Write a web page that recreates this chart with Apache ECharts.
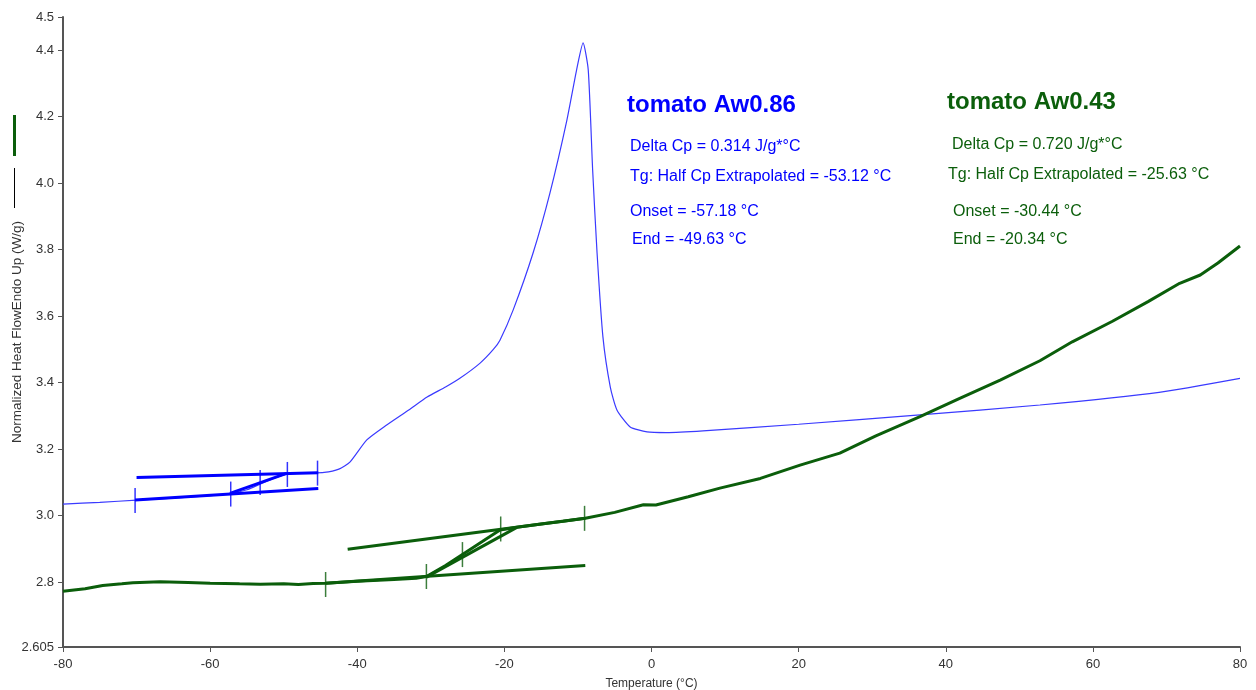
<!DOCTYPE html>
<html>
<head>
<meta charset="utf-8">
<script src="https://cdn.jsdelivr.net/npm/echarts@6/dist/echarts.min.js"></script>
<style>
  html, body { margin: 0; padding: 0; background: #fff; }
  #chart { width: 1256px; height: 690px; }
</style>
</head>
<body>
<div id="chart"></div>
<script>
// x ticks (temperature) and y tick labels
const xTicks = [-80, -60, -40, -20, 0, 20, 40, 60, 80]
const yTicks = [2.605, 2.8, 3.0, 3.2, 3.4, 3.6, 3.8, 4.0, 4.2, 4.4, 4.5]

// tomato Aw0.86 (blue)
const blueCurve = [
  [-80, 3.035], [-75, 3.040], [-70, 3.047], [-65, 3.053], [-60, 3.060], [-57.3, 3.066],
  [-55, 3.078], [-53, 3.097], [-51, 3.115], [-49.5, 3.125], [-47, 3.128], [-44.5, 3.130],
  [-42.5, 3.140], [-41, 3.161], [-38.7, 3.228], [-36, 3.273], [-33, 3.318], [-30.5, 3.357],
  [-28, 3.387], [-26, 3.414], [-23.3, 3.459], [-21.5, 3.500], [-20.6, 3.528], [-18.8, 3.619],
  [-16.1, 3.790], [-13.8, 3.971], [-11.5, 4.190], [-10.1, 4.350], [-9.3, 4.422], [-8.6, 4.341],
  [-8.0, 4.040], [-7.4, 3.790], [-6.6, 3.537], [-5.6, 3.387], [-4.7, 3.318], [-2.9, 3.267],
  [-0.6, 3.252], [2, 3.250], [7, 3.255], [20, 3.275], [36.5, 3.303], [52.8, 3.333],
  [69, 3.371], [80, 3.413]
]
const blueLower = [[-70.2, 3.047], [-45.3, 3.082]]
const blueUpper = [[-70.0, 3.115], [-45.3, 3.129]]
const blueInflect = [[-57.3, 3.067], [-49.6, 3.127]]
const blueMarks = [[-70.2, 3.046], [-57.2, 3.065], [-53.2, 3.100], [-49.5, 3.124], [-45.4, 3.128]]

// tomato Aw0.43 (green)
const greenCurve = [
  [-80, 2.773], [-77, 2.780], [-74.6, 2.790], [-72, 2.795], [-70.5, 2.798], [-66.8, 2.801],
  [-63, 2.799], [-60, 2.797], [-56, 2.795], [-53.2, 2.794], [-50, 2.795], [-48, 2.793],
  [-46, 2.796], [-44.3, 2.797], [-40, 2.803], [-35, 2.808], [-32, 2.812], [-30.6, 2.817],
  [-28, 2.850], [-25.6, 2.885], [-23, 2.922], [-20.6, 2.957], [-18.3, 2.965], [-15, 2.975],
  [-12, 2.983], [-9, 2.992], [-5, 3.010], [-1.1, 3.033], [0.6, 3.032], [5, 3.057],
  [9.3, 3.083], [14.8, 3.112], [20.2, 3.152], [25.6, 3.188], [30.5, 3.240], [36.5, 3.298],
  [41.9, 3.353], [47.4, 3.408], [52.8, 3.466], [57.2, 3.523], [62.6, 3.584], [67.5, 3.644],
  [71.8, 3.699], [74.6, 3.724], [77, 3.760], [80, 3.811]
]
const greenLower = [[-44.3, 2.797], [-9.0, 2.850]]
const greenUpper = [[-41.3, 2.899], [-9.0, 2.992]]
const greenInflect = [[-30.6, 2.815], [-18.3, 2.965]]
const greenMarks = [[-44.3, 2.793], [-30.6, 2.817], [-25.7, 2.883], [-20.5, 2.960], [-9.1, 2.992]]

const blueText = ["Delta Cp = 0.314 J/g*°C", "Tg: Half Cp Extrapolated = -53.12 °C", "Onset = -57.18 °C", "End = -49.63 °C"]
const greenText = ["Delta Cp = 0.720 J/g*°C", "Tg: Half Cp Extrapolated = -25.63 °C", "Onset = -30.44 °C", "End = -20.34 °C"]

const BLUE = "#0000ff"
const BLUE_THIN = "#3a3aff"
const GREEN = "#0b5e0b"
const FONT = "'Liberation Sans', Arial, sans-serif"

let myChart = echarts.init(document.getElementById("chart"))

function segment(data, color){
  return {
    type: "line", data: data, showSymbol: false, silent: true,
    lineStyle: { color: color, width: 3 }, z: 3
  }
}
function marks(data, color){
  return {
    type: "scatter", data: data, symbol: "rect", symbolSize: [1.5, 25], silent: true,
    itemStyle: { color: color }, z: 4
  }
}
function textLines(lines, x, ys, color){
  return lines.map((t, i) => ({
    type: "text", left: x[i], top: ys[i],
    style: { text: t, fill: color, font: "16px " + FONT }
  }))
}

let option = {
  animation: false,
  grid: { left: 63, right: 16, top: 17, bottom: 43, outerBoundsMode: "none" },
  xAxis: {
    type: "value", min: -80, max: 80, interval: 20,
    name: "Temperature (°C)", nameLocation: "middle", nameGap: 31,
    nameTextStyle: { color: "#333", fontSize: 12, fontFamily: FONT },
    axisLine: { onZero: false, lineStyle: { color: "#555", width: 2 } },
    axisTick: { show: true, length: 5, lineStyle: { color: "#555" } },
    axisLabel: { color: "#333", fontSize: 13, fontFamily: FONT, margin: 11, formatter: v => xTicks.includes(v) ? String(v) : "" },
    splitLine: { show: false }
  },
  yAxis: {
    type: "value", min: 2.605, max: 4.5,
    axisLine: { show: true, onZero: false, lineStyle: { color: "#555", width: 2 } },
    axisTick: { show: true, length: 5, customValues: yTicks, lineStyle: { color: "#555" } },
    axisLabel: {
      color: "#333", fontSize: 13, fontFamily: FONT, margin: 9, customValues: yTicks,
      formatter: v => Math.abs(v - 2.605) < 1e-6 ? "2.605" : v.toFixed(1)
    },
    splitLine: { show: false }
  },
  series: [
    { type: "line", data: blueCurve, showSymbol: false, smooth: 0.2, silent: true,
      lineStyle: { color: BLUE_THIN, width: 1.2 }, z: 2 },
    { type: "line", data: greenCurve, showSymbol: false, silent: true,
      lineStyle: { color: GREEN, width: 3 }, z: 2 },
    segment(blueLower, BLUE), segment(blueUpper, BLUE), segment(blueInflect, BLUE),
    segment(greenLower, GREEN), segment(greenUpper, GREEN), segment(greenInflect, GREEN),
    marks(blueMarks, BLUE), marks(greenMarks, GREEN)
  ],
  graphic: [
    // legend samples and rotated axis title
    { type: "line", shape: { x1: 14.5, y1: 115, x2: 14.5, y2: 156 }, style: { stroke: GREEN, lineWidth: 3 } },
    { type: "line", shape: { x1: 14.5, y1: 168, x2: 14.5, y2: 208 }, style: { stroke: "#000", lineWidth: 1 } },
    { type: "text", x: 17, y: 332, rotation: Math.PI / 2,
      style: { text: "Normalized Heat FlowEndo Up (W/g)", fill: "#333", font: "13.5px " + FONT, align: "center", verticalAlign: "middle" } },
    { type: "text", left: 627, top: 93, style: { text: "tomato Aw0.86", fill: BLUE, font: "bold 24px " + FONT } },
    { type: "text", left: 947, top: 90, style: { text: "tomato Aw0.43", fill: GREEN, font: "bold 24px " + FONT } }
  ].concat(textLines(blueText, [630, 630, 630, 632], [139, 169, 204, 232], BLUE))
   .concat(textLines(greenText, [952, 948, 953, 953], [137, 167, 204, 232], GREEN))
}
myChart.setOption(option)
</script>
</body>
</html>
